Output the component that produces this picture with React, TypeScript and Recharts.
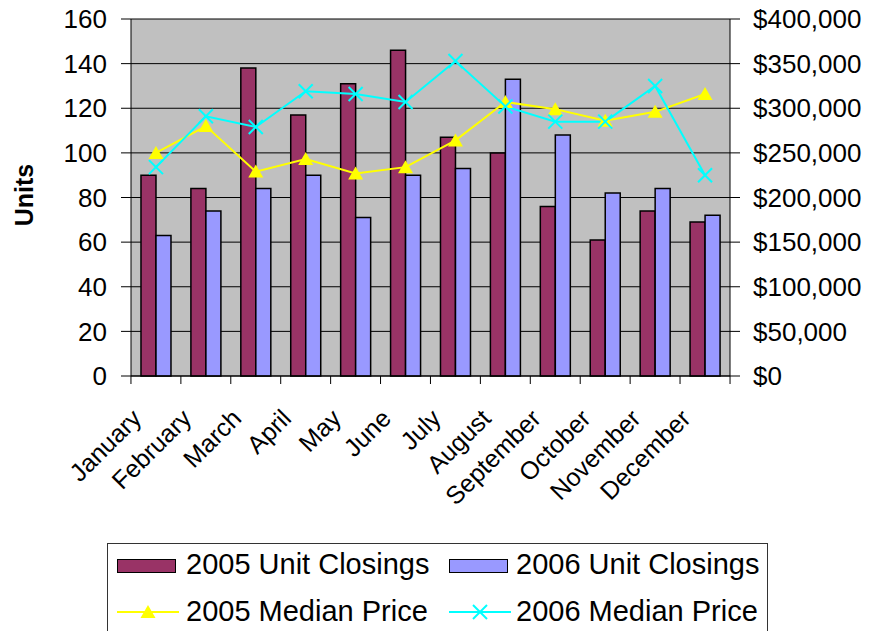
import { Bar, CartesianGrid, ComposedChart, Legend, Line, XAxis, YAxis } from "recharts";

const months = [
  "January", "February", "March", "April", "May", "June",
  "July", "August", "September", "October", "November", "December",
];
const closings2005 = [90, 84, 138, 117, 131, 146, 107, 100, 76, 61, 74, 69];
const closings2006 = [63, 74, 84, 90, 71, 90, 93, 133, 108, 82, 84, 72];
const price2005 = [250000, 280000, 229000, 243000, 227000, 234000, 264000, 307000, 299000, 286000, 296000, 316000];
const price2006 = [234000, 291000, 279000, 319000, 316000, 307000, 353000, 302000, 285000, 285000, 325000, 225000];
const unitTicks = [0, 20, 40, 60, 80, 100, 120, 140, 160];
const priceTicks = [0, 50000, 100000, 150000, 200000, 250000, 300000, 350000, 400000];

const FONT = "'Liberation Sans', Arial, sans-serif";
const C2005 = "#993366";
const C2006 = "#9999FF";
const Y2005 = "#FFFF00";
const Y2006 = "#00FFFF";

const data = months.map((m, i) => ({
  month: m,
  c2005: closings2005[i],
  c2006: closings2006[i],
  p2005: price2005[i],
  p2006: price2006[i],
}));

const money = (v: number) => "$" + v.toLocaleString("en-US");

function MonthTick({ x, y, payload, index }: any) {
  const half = 25;
  const ax = x - 13;
  const ay = y + 44;
  return (
    <g>
      <line x1={x - half} x2={x - half} y1={y} y2={y + 8} stroke="#000" />
      {index === months.length - 1 && <line x1={x + half} x2={x + half} y1={y} y2={y + 8} stroke="#000" />}
      <text x={ax} y={ay} textAnchor="end" transform={`rotate(-45 ${ax} ${ay})`} fontSize={25} fontFamily={FONT} fill="#000">
        {payload.value}
      </text>
    </g>
  );
}

function Triangle({ cx, cy }: any) {
  if (cx == null || cy == null) return null;
  return <path d={`M${cx},${cy - 7} L${cx + 7.5},${cy + 6} L${cx - 7.5},${cy + 6} Z`} fill={Y2005} />;
}

function Cross({ cx, cy }: any) {
  if (cx == null || cy == null) return null;
  return (
    <g stroke={Y2006} strokeWidth={2}>
      <line x1={cx - 7} y1={cy - 7} x2={cx + 7} y2={cy + 7} />
      <line x1={cx - 7} y1={cy + 7} x2={cx + 7} y2={cy - 7} />
    </g>
  );
}

function UnitsLabel() {
  return (
    <text x={33} y={195} transform="rotate(-90 33 195)" textAnchor="middle" fontSize={25} fontWeight="bold" fontFamily={FONT} fill="#000">
      Units
    </text>
  );
}

function LegendBox() {
  const text = { position: "absolute" as const, fontSize: 29, fontFamily: FONT, lineHeight: "29px", whiteSpace: "nowrap" as const };
  const swatch = (left: number, color: string) => (
    <div style={{ position: "absolute", left, top: 15, width: 57, height: 12, background: color, border: "1.5px solid #000" }} />
  );
  const lineKey = (left: number, color: string, marker: "tri" | "x") => (
    <svg style={{ position: "absolute", left, top: 58 }} width={62} height={20}>
      <line x1={0} x2={62} y1={10} y2={10} stroke={color} strokeWidth={2} />
      {marker === "tri" ? <Triangle cx={31} cy={10} /> : <Cross cx={31} cy={10} />}
    </svg>
  );
  return (
    <div style={{ position: "relative", width: 661, height: 88, background: "#fff", borderTop: "1.5px solid #333", borderLeft: "1.5px solid #333", borderRight: "1.5px solid #333", boxSizing: "border-box" }}>
      {swatch(9, C2005)}
      <div style={{ ...text, left: 78, top: 6 }}>2005 Unit Closings</div>
      {swatch(341, C2006)}
      <div style={{ ...text, left: 408, top: 6 }}>2006 Unit Closings</div>
      {lineKey(9, Y2005, "tri")}
      <div style={{ ...text, left: 78, top: 53 }}>2005 Median Price</div>
      {lineKey(341, Y2006, "x")}
      <div style={{ ...text, left: 408, top: 53 }}>2006 Median Price</div>
    </div>
  );
}

export default function App() {
  return (
    <div style={{ position: "absolute", left: 0, top: 0, width: 896, height: 631, overflow: "hidden", background: "#fff" }}>
      <ComposedChart width={896} height={631} data={data} margin={{ top: 19, right: 0, bottom: 0, left: 0 }} barCategoryGap="20%" barGap={0}>
        <CartesianGrid vertical={false} stroke="#000" fill="#C0C0C0" yAxisId="left" />
        <XAxis
          dataKey="month"
          height={255}
          interval={0}
          tickLine={false}
          tickSize={0}
          tickMargin={0}
          axisLine={{ stroke: "#000" }}
          tick={<MonthTick />}
        />
        <YAxis
          yAxisId="left"
          orientation="left"
          width={131}
          domain={[0, 160]}
          ticks={unitTicks}
          interval={0}
          tickSize={10}
          tickMargin={14}
          axisLine={{ stroke: "#000" }}
          tickLine={{ stroke: "#000" }}
          tick={{ fontSize: 26, fontFamily: FONT, fill: "#000" }}
          label={<UnitsLabel />}
        />
        <YAxis
          yAxisId="right"
          orientation="right"
          width={166}
          domain={[0, 400000]}
          ticks={priceTicks}
          interval={0}
          tickSize={10}
          tickMargin={13}
          tickFormatter={money}
          axisLine={{ stroke: "#000" }}
          tickLine={{ stroke: "#000" }}
          tick={{ fontSize: 26, fontFamily: FONT, fill: "#000", textAnchor: "start" }}
        />
        <Bar yAxisId="left" dataKey="c2005" name="2005 Unit Closings" fill={C2005} stroke="#000" strokeWidth={1.5} isAnimationActive={false} />
        <Bar yAxisId="left" dataKey="c2006" name="2006 Unit Closings" fill={C2006} stroke="#000" strokeWidth={1.5} isAnimationActive={false} />
        <Line yAxisId="right" dataKey="p2005" name="2005 Median Price" stroke={Y2005} strokeWidth={2} dot={<Triangle />} activeDot={false} isAnimationActive={false} />
        <Line yAxisId="right" dataKey="p2006" name="2006 Median Price" stroke={Y2006} strokeWidth={2} dot={<Cross />} activeDot={false} isAnimationActive={false} />
        <Legend
          layout="horizontal"
          verticalAlign="middle"
          align="center"
          content={<LegendBox />}
          wrapperStyle={{ left: 107, top: 543, width: 661, height: 88 }}
        />
      </ComposedChart>
    </div>
  );
}
